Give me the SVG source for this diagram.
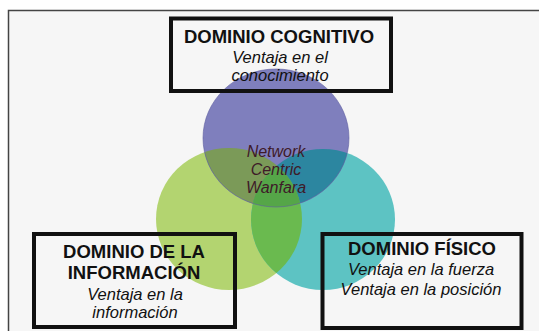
<svg xmlns="http://www.w3.org/2000/svg" width="539" height="331" viewBox="0 0 539 331">
  <style>
    .box { fill: none; stroke: #111; stroke-width: 4; }
    .title { font-family: "Liberation Sans", Arial, sans-serif; font-weight: bold; font-size: 18.5px; fill: #111; text-anchor: middle; }
    .sub { font-family: "Liberation Sans", Arial, sans-serif; font-style: italic; font-size: 16.5px; fill: #111; text-anchor: middle; }
    .nc { font-family: "Liberation Sans", Arial, sans-serif; font-style: italic; font-size: 16px; fill: #3e1a28; text-anchor: middle; }
  </style>
  <defs>
    <ellipse id="eP" cx="276" cy="138" rx="73" ry="69"/>
    <ellipse id="eG" cx="229" cy="219" rx="73" ry="71"/>
    <ellipse id="eT" cx="323" cy="219.5" rx="72" ry="70.5"/>
    <clipPath id="cP"><use href="#eP"/></clipPath>
    <clipPath id="cG"><use href="#eG"/></clipPath>
    <clipPath id="cT"><use href="#eT"/></clipPath>
  </defs>
  <rect x="0" y="0" width="539" height="331" fill="#ffffff"/>
  <rect x="8.5" y="10.5" width="540" height="330" fill="#f6f6f6" stroke="#444" stroke-width="1.5"/>

  <g id="network-centric-warfare">
    <use href="#eG" fill="#b3d470"/>
    <use href="#eT" fill="#5dc3c3"/>
    <use href="#eP" fill="#7f7fbd"/>
    <g clip-path="url(#cG)"><use href="#eP" fill="#7b9a58"/></g>
    <g clip-path="url(#cT)"><use href="#eP" fill="#2c86a0"/></g>
    <g clip-path="url(#cT)"><use href="#eG" fill="#6aba4f"/></g>
    <g clip-path="url(#cT)"><g clip-path="url(#cG)"><use href="#eP" fill="#55a648"/></g></g>
    <use href="#eP" fill="none" stroke="#5f5fa0" stroke-opacity="0.6" stroke-width="1"/>
    <text class="nc" x="276" y="157">Network</text>
    <text class="nc" x="276" y="175">Centric</text>
    <text class="nc" x="276" y="193">Wanfara</text>
  </g>

  <g id="connectors"></g>

  <g id="dominio-cognitivo">
    <rect class="box" x="171" y="18.5" width="220" height="72.5"/>
    <text class="title" x="279" y="43">DOMINIO COGNITIVO</text>
    <text class="sub" x="280" y="63">Ventaja en el</text>
    <text class="sub" x="280" y="81">conocimiento</text>
  </g>

  <g id="dominio-informacion">
    <rect class="box" x="34" y="234" width="201" height="93"/>
    <text class="title" x="134" y="258">DOMINIO DE LA</text>
    <text class="title" x="134" y="279">INFORMACIÓN</text>
    <text class="sub" x="135" y="300">Ventaja en la</text>
    <text class="sub" x="135" y="318">información</text>
  </g>

  <g id="dominio-fisico">
    <rect class="box" x="322.5" y="234" width="199" height="94"/>
    <text class="title" x="422" y="255">DOMINIO FÍSICO</text>
    <text class="sub" x="421" y="275">Ventaja en la fuerza</text>
    <text class="sub" x="421" y="294.5">Ventaja en la posición</text>
  </g>
</svg>
